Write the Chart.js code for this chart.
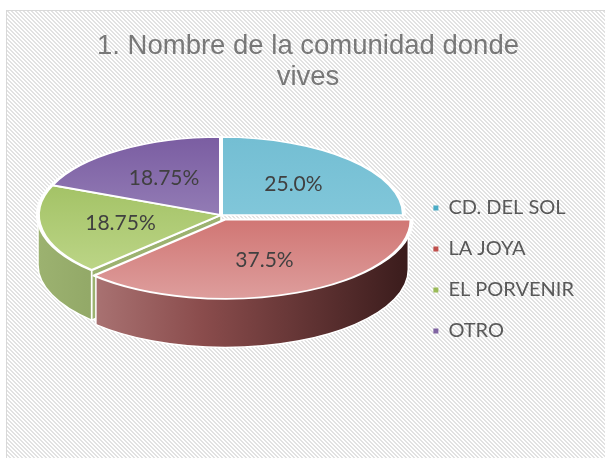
<!DOCTYPE html>
<html>
<head>
<meta charset="utf-8">
<script src="https://cdn.jsdelivr.net/npm/chart.js@4/dist/chart.umd.min.js"></script>
<style>
  body { margin: 0; background: #fff; }
  canvas { display: block; }
</style>
</head>
<body>
<canvas id="pieChart" width="605" height="458"></canvas>
<script>
// Data
const titleLines = ['1. Nombre de la comunidad donde', 'vives'];
const categories = ['CD. DEL SOL', 'LA JOYA', 'EL PORVENIR', 'OTRO'];
const percentages = [25.0, 37.5, 18.75, 18.75];
const percentLabels = ['25.0%', '37.5%', '18.75%', '18.75%'];

// Styles
const legendColors = ['#4bacc6', '#c0504d', '#9bbb59', '#8064a2'];
const topColors = [
  ['#72bdd2', '#8fd0e1'],
  ['#c24a47', '#dfa2a1'],
  ['#93b650', '#c5dc93'],
  ['#77599f', '#ae9ecb']
];
const sideColors = [
  ['#3f8fa5', '#2c6b7c'],
  ['#b98686', '#3c1d1d'],
  ['#9cb270', '#7f9556'],
  ['#6a4f8c', '#4f3a6a']
];
const explode = [0, 28, 0, 0];

// 3D look: where the flattened pie sits on the page
const pie3d = { cx: 221, cy: 215, rx: 183, ry: 78, depth: 50, labelR: 0.56 };

function pieGeom(chart) {
  const arcs = chart.getDatasetMeta(0).data;
  const R = arcs[0].outerRadius;
  return { arcs, R, sx: pie3d.rx / R, sy: pie3d.ry / R, ox: arcs[0].x, oy: arcs[0].y };
}

function shift(arc, g) {
  const mid = (arc.startAngle + arc.endAngle) / 2;
  const o = (arc.options.offset || 0) / 4;
  return { dx: Math.cos(mid) * o * g.sx, dy: Math.sin(mid) * o * g.sy };
}

const backgroundPlugin = {
  id: 'hatchBackground',
  beforeDraw(chart) {
    const ctx = chart.ctx;
    const tile = document.createElement('canvas');
    tile.width = 4; tile.height = 4;
    const t = tile.getContext('2d');
    t.fillStyle = '#ffffff';
    t.fillRect(0, 0, 4, 4);
    t.fillStyle = '#e2e2e2';
    for (let y = 0; y < 4; y++) {
      for (let x = 0; x < 4; x++) {
        if (((x - y) % 4 + 4) % 4 < 2) t.fillRect(x, y, 1, 1);
      }
    }
    ctx.save();
    ctx.fillStyle = '#ffffff';
    ctx.fillRect(0, 0, chart.width, chart.height);
    ctx.fillStyle = ctx.createPattern(tile, 'repeat');
    ctx.fillRect(6, 10, chart.width, chart.height);
    ctx.strokeStyle = '#d9d9d9';
    ctx.lineWidth = 1;
    ctx.strokeRect(6.5, 10.5, chart.width + 10, chart.height + 10);
    ctx.restore();
  }
};

const pie3dPlugin = {
  id: 'pie3d',
  beforeDatasetsDraw(chart) {
    const ctx = chart.ctx;
    const g = pieGeom(chart);
    const { cx, cy, rx, ry, depth } = pie3d;

    ctx.save();
    ctx.lineWidth = 1.5;
    ctx.strokeStyle = '#ffffff';
    // cut face of the slice next to the exploded one
    g.arcs.forEach((arc, i) => {
      const s = shift(arc, g);
      if (s.dx || s.dy) return;
      [arc.startAngle, arc.endAngle].forEach(a => {
        const px = cx + Math.cos(a) * rx, py = cy + Math.sin(a) * ry;
        if (Math.sin(a) <= 0) return;
        ctx.beginPath();
        ctx.moveTo(cx, cy);
        ctx.lineTo(px, py);
        ctx.lineTo(px, py + depth);
        ctx.lineTo(cx, cy + depth);
        ctx.closePath();
        ctx.fillStyle = sideColors[i][0];
        ctx.fill();
        ctx.stroke();
      });
    });
    // outer side walls (front half only)
    g.arcs.forEach((arc, i) => {
      const s = Math.max(arc.startAngle, 0), e = Math.min(arc.endAngle, Math.PI);
      if (e <= s) return;
      const sh = shift(arc, g);
      const x0 = cx + sh.dx, y0 = cy + sh.dy;
      const grad = ctx.createLinearGradient(cx - rx, 0, cx + rx, 0);
      grad.addColorStop(0, sideColors[i][0]);
      grad.addColorStop(0.45, i === 1 ? '#8a4c4c' : sideColors[i][1]);
      grad.addColorStop(1, sideColors[i][1]);
      ctx.beginPath();
      ctx.ellipse(x0, y0, rx, ry, 0, s, e, false);
      ctx.ellipse(x0, y0 + depth, rx, ry, 0, e, s, true);
      ctx.closePath();
      ctx.fillStyle = grad;
      ctx.fill();
      ctx.stroke();
    });
    ctx.restore();

    // flatten the library's pie into the top face
    ctx.save();
    ctx.translate(cx, cy);
    ctx.scale(g.sx, g.sy);
    ctx.translate(-g.ox, -g.oy);
  },
  afterDatasetsDraw(chart) {
    const ctx = chart.ctx;
    ctx.restore();
    const g = pieGeom(chart);
    ctx.save();
    ctx.font = '21px Lato';
    ctx.fillStyle = '#404040';
    ctx.textAlign = 'center';
    ctx.textBaseline = 'middle';
    g.arcs.forEach((arc, i) => {
      const mid = (arc.startAngle + arc.endAngle) / 2;
      const sh = shift(arc, g);
      const x = pie3d.cx + Math.cos(mid) * pie3d.rx * pie3d.labelR + sh.dx;
      const y = pie3d.cy + Math.sin(mid) * pie3d.ry * pie3d.labelR + sh.dy;
      ctx.fillText(percentLabels[i], x, y);
    });
    ctx.restore();
  }
};

new Chart(document.getElementById('pieChart'), {
  type: 'pie',
  data: {
    labels: categories,
    datasets: [{
      data: percentages,
      backgroundColor: (c) => {
        const area = c.chart.chartArea;
        const i = c.dataIndex;
        if (!area || i === undefined) return legendColors[i || 0];
        const h = Math.min(area.width, area.height) / 2;
        const mid = (area.top + area.bottom) / 2;
        const grad = c.chart.ctx.createLinearGradient(0, mid - h, 0, mid + h);
        grad.addColorStop(0, topColors[i][0]);
        grad.addColorStop(1, topColors[i][1]);
        return grad;
      },
      borderColor: '#ffffff',
      borderWidth: 2.5,
      offset: explode,
      clip: false
    }]
  },
  options: {
    responsive: false,
    devicePixelRatio: 1,
    animation: false,
    layout: { padding: { top: 10, left: 32, right: 21, bottom: 96 } },
    plugins: {
      title: {
        display: true,
        text: titleLines,
        color: '#787878',
        font: { family: 'Liberation Sans', size: 27.5, weight: 'normal', lineHeight: 1.13 },
        padding: { top: 21, bottom: 10 }
      },
      legend: {
        position: 'right',
        align: 'end',
        labels: {
          boxWidth: 5,
          boxHeight: 5,
          padding: 21,
          color: '#595959',
          font: { family: 'Lato', size: 20 },
          generateLabels: () => categories.map((c, i) => ({
            text: c,
            fillStyle: legendColors[i],
            strokeStyle: legendColors[i],
            lineWidth: 0,
            hidden: false,
            index: i,
            fontColor: '#595959'
          }))
        }
      },
      tooltip: { enabled: false }
    }
  },
  plugins: [backgroundPlugin, pie3dPlugin]
});
</script>
</body>
</html>
